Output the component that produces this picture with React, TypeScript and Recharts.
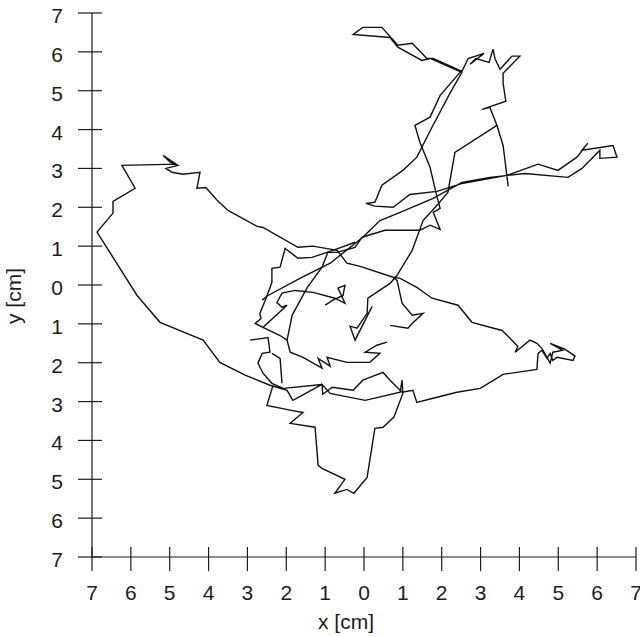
import React from 'react';
import { ScatterChart, Scatter, XAxis, YAxis } from 'recharts';

type Pt = { x: number; y: number };

const axisTicks = [-7, -6, -5, -4, -3, -2, -1, 0, 1, 2, 3, 4, 5, 6, 7];
const xTickLabels = ['7', '6', '5', '4', '3', '2', '1', '0', '1', '2', '3', '4', '5', '6', '7'];
const yTickLabels = ['7', '6', '5', '4', '3', '2', '1', '0', '1', '2', '3', '4', '5', '6', '7'];
const xTitle = 'x [cm]';
const yTitle = 'y [cm]';

const p = (x: number, y: number): Pt => ({ x, y });

// top-right excursion, upper loop, right arrow
const trackNorth: Pt[] = [
  p(3.71, 2.54), p(3.58, 3.59), p(3.42, 4.11), p(3.24, 4.57), p(3.04, 4.52), p(3.65, 4.73),
  p(3.58, 5.19), p(3.58, 5.45), p(4.01, 5.89), p(3.81, 5.89), p(3.5, 5.55), p(3.37, 5.83),
  p(3.32, 6.07), p(3.22, 5.73), p(2.88, 5.83), p(2.73, 5.68), p(3.09, 5.96), p(2.68, 5.83),
  p(2.52, 5.5), p(1.78, 5.83), p(1.62, 5.83), p(1.24, 6.22), p(0.87, 6.17), p(0.46, 6.63),
  p(-0.03, 6.63), p(-0.28, 6.45), p(0.67, 6.37), p(0.87, 6.12), p(1.49, 5.78), p(1.7, 5.83),
  p(2.52, 5.47), p(2.21, 4.93), p(1.75, 4.06), p(1.36, 3.29), p(1.0, 2.95), p(0.46, 2.57),
  p(0.28, 2.13), p(0.05, 2.1), p(0.28, 2.03), p(0.75, 2.0), p(1.18, 2.33), p(1.88, 2.41),
  p(2.55, 2.62), p(3.68, 2.82), p(4.48, 3.11), p(4.99, 2.95), p(5.48, 3.29), p(5.76, 3.65),
  p(5.61, 3.47), p(6.41, 3.59), p(6.51, 3.29), p(6.07, 3.26), p(6.07, 3.47), p(5.61, 3.0),
  p(5.25, 2.77), p(4.14, 2.87), p(3.24, 2.77), p(2.52, 2.64), p(1.78, 2.23), p(0.93, 1.87),
  p(0.41, 1.66), p(-0.03, 1.23), p(-0.87, 0.56), p(-1.65, 0.17), p(-2.47, -0.27), p(-2.62, -0.39),
];

// second descent from the upper cluster to the centre
const trackDescent: Pt[] = [
  p(2.52, 5.53), p(1.96, 4.88), p(1.7, 4.32), p(1.31, 4.11), p(1.44, 3.67), p(1.7, 3.03),
  p(1.88, 2.26), p(1.96, 1.97), p(1.78, 1.87), p(1.96, 1.43), p(1.7, 1.54), p(1.44, 1.41),
  p(0.93, 1.41), p(0.54, 1.41), p(-0.05, 1.23), p(-0.23, 0.97), p(-0.69, 0.84), p(-0.93, 0.84),
  p(-1.08, 0.46), p(-1.47, -0.08), p(-1.85, -0.78), p(-1.98, -1.42), p(-1.9, -1.73), p(-1.57, -1.86),
  p(-1.08, -2.14), p(-1.18, -1.89), p(-0.87, -2.09), p(-0.95, -1.86), p(-0.44, -1.99), p(0.15, -1.99),
  p(0.41, -1.76), p(0.03, -1.73), p(0.33, -1.55), p(0.59, -1.47),
];

// diagonal through the centre
const trackDiagonal: Pt[] = [
  p(3.42, 4.11), p(2.34, 3.41), p(2.16, 2.39), p(1.88, 2.05), p(1.52, 1.66), p(1.24, 0.89),
  p(0.85, 0.25), p(0.67, 0.04), p(0.1, -0.34), p(0.08, -0.73), p(-0.18, -1.11), p(-0.36, -1.06),
  p(-0.23, -1.42), p(0.21, -0.55),
];

const trackBranch: Pt[] = [
  p(0.75, 0.2), p(0.85, 0.12), p(0.98, -0.47), p(1.24, -0.78), p(1.52, -0.73), p(1.24, -0.99),
  p(1.13, -1.11), p(0.67, -1.04),
];

// tangle left of centre
const trackTangle: Pt[] = [
  p(-0.23, 1.1), p(-0.8, 0.89), p(-1.34, 0.71), p(-1.7, 0.69), p(-2.03, 0.94), p(-2.16, 0.46),
  p(-2.37, 0.43), p(-2.37, 0.07), p(-2.52, -0.34), p(-2.68, -0.73), p(-2.65, -0.86), p(-2.8, -0.99),
  p(-2.6, -1.09), p(-1.98, -0.52), p(-2.11, -0.57), p(-2.24, -0.45), p(-2.11, -0.21), p(-1.78, -0.14),
  p(-1.31, -0.19), p(-0.75, -0.34), p(-0.49, -0.47), p(-0.67, -0.08), p(-0.49, -0.01), p(-0.54, -0.27),
  p(-0.8, -0.39), p(-1.0, -0.52),
];

// short links between the tangle and the southern lines
const trackLinkA: Pt[] = [p(-2.6, -1.09), p(-2.16, -1.3), p(-1.98, -1.42)];
const trackLinkB: Pt[] = [p(-2.37, -1.76), p(-2.16, -1.89), p(-2.11, -2.53)];

// big loop: left lobe, right tail, southern lobe
const trackLoop: Pt[] = [
  p(-2.93, -1.42), p(-2.47, -1.35), p(-2.42, -1.73), p(-2.62, -1.76), p(-2.73, -2.01), p(-2.6, -2.27),
  p(-2.37, -2.53), p(-2.08, -2.66), p(-1.08, -2.56), p(-1.83, -2.97), p(-1.98, -2.71), p(-2.42, -2.58),
  p(-3.06, -2.32), p(-3.71, -1.99), p(-4.14, -1.42), p(-5.25, -0.96), p(-5.84, -0.27), p(-6.87, 1.36),
  p(-6.46, 1.85), p(-6.46, 2.15), p(-5.89, 2.49), p(-6.23, 3.08), p(-4.84, 3.11), p(-5.17, 3.34),
  p(-4.99, 3.16), p(-4.79, 3.08), p(-5.1, 3.0), p(-4.94, 2.9), p(-4.66, 2.85), p(-4.22, 2.9),
  p(-4.3, 2.49), p(-4.07, 2.51), p(-3.78, 2.18), p(-3.5, 1.92), p(-2.75, 1.51), p(-2.6, 1.48),
  p(-1.7, 0.97), p(-1.31, 1.0), p(-0.69, 0.89), p(-0.44, 0.56), p(-0.1, 0.48), p(0.75, 0.2),
  p(0.93, 0.17), p(1.36, -0.06), p(1.75, -0.34), p(2.42, -0.52), p(2.78, -0.96), p(3.55, -1.17),
  p(3.63, -1.24), p(3.96, -1.58), p(3.89, -1.73), p(4.27, -1.42), p(4.45, -1.5), p(4.58, -1.63),
  p(4.79, -2.01), p(4.86, -1.73), p(5.12, -1.68), p(4.79, -1.5), p(5.17, -1.65), p(5.43, -1.83),
  p(5.38, -1.94), p(4.97, -1.86), p(4.86, -1.94), p(4.79, -1.76), p(4.71, -1.89), p(4.58, -1.68),
  p(4.48, -1.76), p(4.45, -2.17), p(3.58, -2.3), p(2.99, -2.66), p(2.39, -2.76), p(1.75, -2.92),
  p(1.36, -3.02), p(1.26, -2.71), p(0.98, -2.76), p(0.67, -2.45), p(0.49, -2.25), p(-0.03, -2.45),
  p(-0.28, -2.71), p(-0.82, -2.63), p(-1.06, -2.81), p(-1.08, -2.56), p(-0.87, -2.79), p(0.03, -2.97),
  p(0.93, -2.76), p(0.98, -2.45), p(1.0, -2.79), p(0.77, -3.4), p(0.49, -3.66), p(0.28, -3.69),
  p(0.08, -4.95), p(-0.26, -5.36), p(-0.44, -5.26), p(-0.75, -5.36), p(-0.49, -5.0), p(-1.08, -4.72),
  p(-1.18, -4.64), p(-1.26, -3.66), p(-1.9, -3.56), p(-1.57, -3.28), p(-1.9, -3.22), p(-2.5, -3.1),
  p(-2.34, -2.58),
];

const tracks = [
  trackNorth, trackDescent, trackDiagonal, trackBranch, trackTangle, trackLinkA, trackLinkB, trackLoop,
];

const FONT = '"Liberation Sans", Arial, Helvetica, sans-serif';
const INK = '#1c1c1c';
const FS = 21;

function XTick(props: any) {
  const { x, y, payload } = props;
  const i = axisTicks.indexOf(payload.value);
  return (
    <g>
      <line x1={x} x2={x} y1={y - 12} y2={y + 12} stroke={INK} strokeWidth={1.2} />
      <text x={x} y={y + 41} textAnchor="middle" fontSize={FS} fontFamily={FONT} fill={INK}>
        {xTickLabels[i]}
      </text>
    </g>
  );
}

function YTick(props: any) {
  const { x, y, payload } = props;
  const i = axisTicks.indexOf(payload.value);
  return (
    <g>
      <line x1={x - 12} x2={x + 12} y1={y} y2={y} stroke={INK} strokeWidth={1.2} />
      <text x={x - 27} y={y + 10} textAnchor="end" fontSize={FS} fontFamily={FONT} fill={INK}>
        {yTickLabels[i]}
      </text>
    </g>
  );
}

const NoDot = () => <g />;

export default function App() {
  return (
    <div style={{ position: 'absolute', left: 0, top: 0, width: 640, height: 637, background: '#fff' }}>
      <ScatterChart width={640} height={637} margin={{ top: 13, right: 4, bottom: 0, left: 0 }}>
        <XAxis
          type="number"
          dataKey="x"
          domain={[-7, 7]}
          ticks={axisTicks}
          interval={0}
          height={80}
          tickSize={0}
          tickLine={false}
          axisLine={{ stroke: INK, strokeWidth: 1.2 }}
          tick={<XTick />}
          allowDataOverflow
        />
        <YAxis
          type="number"
          dataKey="y"
          domain={[-7, 7]}
          ticks={axisTicks}
          interval={0}
          width={92}
          tickSize={0}
          tickLine={false}
          axisLine={{ stroke: INK, strokeWidth: 1.2 }}
          tick={<YTick />}
          allowDataOverflow
        />
        {tracks.map((t, k) => (
          <Scatter
            key={k}
            data={t}
            fill="#111"
            line={{ stroke: '#111', strokeWidth: 1.4 }}
            lineType="joint"
            shape={NoDot}
            isAnimationActive={false}
            legendType="none"
          />
        ))}
      </ScatterChart>
      <svg
        width={640}
        height={637}
        style={{ position: 'absolute', left: 0, top: 0, pointerEvents: 'none' }}
      >
        <text x={346} y={629} textAnchor="middle" fontSize={FS} fontFamily={FONT} fill={INK}>
          {xTitle}
        </text>
        <text
          x={0}
          y={0}
          textAnchor="middle"
          fontSize={FS}
          fontFamily={FONT}
          fill={INK}
          transform="translate(21 296) rotate(-90)"
        >
          {yTitle}
        </text>
      </svg>
    </div>
  );
}
